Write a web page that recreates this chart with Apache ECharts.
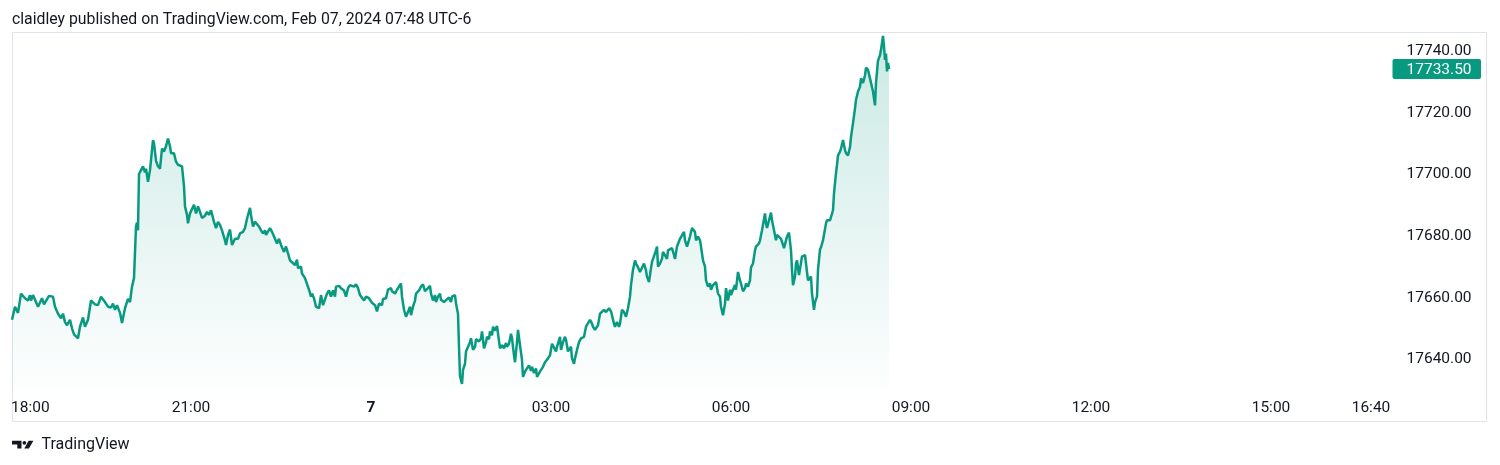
<!DOCTYPE html>
<html><head><meta charset="utf-8">
<script src="https://cdn.jsdelivr.net/npm/echarts@6/dist/echarts.min.js"></script>
<style>html,body{margin:0;padding:0;background:#fff}#c{width:1500px;height:465px}</style>
</head><body><div id="c"></div><script>
// minutes since 18:00 (session start)
const minutes = [
1,4,7,10,14,17,19,20,22,25,
27,29,31,33,35,38,42,44,47,50,
52,54,56,59,61,63,65,67,69,72,
74,77,80,84,87,90,94,97,100,102,
104,106,109,111,114,117,119,121,123,124,
125,126,127,128,130,132,134,135,137,139,
140,142,143,145,147,149,151,153,155,157,
159,160,163,165,167,169,171,173,174,176,
177,179,181,183,185,187,189,191,194,196,
198,200,203,205,207,209,211,214,215,217,
219,221,224,227,229,232,234,236,239,240,
242,244,246,248,250,252,254,255,257,259,
261,264,266,268,270,273,275,277,279,281,
284,286,287,290,291,294,296,298,300,301,
303,305,308,310,312,314,316,318,320,322,
324,325,328,330,333,335,337,339,341,343,
345,347,349,351,353,355,358,360,361,363,
364,366,368,371,372,375,377,380,381,384,
386,388,390,391,393,395,397,399,400,402,
404,405,408,410,412,414,416,419,420,422,
424,425,427,429,430,433,435,438,440,441,
444,445,447,448,449,451,452,454,455,457,
459,460,462,464,465,468,470,471,473,475,
476,478,479,481,482,484,486,487,489,491,
493,495,496,498,500,501,503,504,506,507,
509,511,512,514,516,518,520,521,523,525,
526,528,530,532,534,535,537,539,541,543,
545,546,549,550,552,554,555,557,560,561,
563,564,566,568,570,571,573,575,577,579,
581,582,584,586,587,589,590,593,595,598,
600,601,603,604,606,608,609,611,613,615,
617,619,620,622,624,625,627,629,631,633,
635,636,638,640,641,643,645,646,647,649,
651,652,654,656,657,659,661,663,664,666,
667,669,671,673,674,676,677,679,681,682,
684,685,687,689,690,692,694,695,697,699,
700,702,704,705,707,709,710,712,714,715,
717,719,720,722,724,725,727,729,730,732,
734,735,737,739,740,742,744,745,748,749,
751,752,754,755,756,758,760,761,763,765,
766,768,770,771,773,775,776,778,780,781,
782,784,785,786,788,789,791,792,794,795,
797,798,800,801,803,804,806,807,809,810,
812,814,815,816,819,820,822,823,825,826,
827,829,830,832,834,835,837,839,840,842,
844,845,847,849,850,852,854,855,857,859,
860,862,864,865,867,868,869,870,872,873,
874,875,876,877,878
];
const prices = [
17652.25,17656.5,17654.5,17660.75,17659.25,17658.5,17660.25,17658.5,17660.25,17658,
17656.5,17656.5,17659.25,17657.25,17657,17660,17659.75,17656.5,17654.25,17652.75,
17654.25,17651.5,17650.5,17652.25,17649.5,17647.5,17647,17646.25,17650,17653,
17650,17652.25,17658.5,17657.25,17657,17659.75,17658,17656.5,17656.25,17657.5,
17655.5,17657,17654.5,17651.25,17656,17659,17658,17663,17665.75,17666,
17682.5,17683.75,17681.25,17699.5,17700.75,17702,17700,17701.25,17697,17700.75,
17704,17710.5,17709.5,17703.75,17702,17701.25,17707.75,17706.75,17708.5,17711,
17708.5,17706.25,17706.25,17703.5,17702.5,17703,17702,17695.5,17689,17686.25,
17683.5,17686.75,17686.75,17689.5,17686.75,17689,17687.25,17685.25,17686,17687.25,
17686.25,17687.75,17684,17682,17684,17683,17681.25,17678,17676.5,17679.75,
17681.5,17676.5,17678.5,17678.5,17680.25,17680.75,17682,17685,17688.5,17686.25,
17682.5,17684,17683.5,17682.5,17681.25,17680.25,17681.25,17679.75,17680.25,17682,
17680.75,17678.5,17677,17678.5,17676.5,17674.25,17676,17673.75,17671.5,17672,
17670,17671.75,17669,17669.5,17667.25,17665.75,17666.25,17662,17659.75,17660.75,
17659.25,17656.5,17656,17660.25,17657,17657.5,17660.75,17661.75,17659.75,17661.75,
17659.75,17663,17663.25,17662.5,17661.75,17659.75,17662.5,17663.5,17663,17663,
17663.75,17662.5,17660.25,17659.75,17658.5,17659.75,17659.25,17659.75,17657.75,17658,
17657,17655,17657.5,17657,17659,17659.25,17662,17662.5,17661.5,17660.75,
17662,17662.5,17664,17659.75,17655.5,17653.25,17654.75,17656.5,17653.75,17656.5,
17658.5,17660.75,17661.75,17663,17663.75,17661.5,17662,17663.25,17660.75,17658.5,
17660.25,17658,17659.75,17660.75,17658.75,17658,17657.5,17659.5,17658,17659.75,
17660.25,17657.5,17654.25,17643.5,17634,17631.5,17636,17638,17642,17642.5,
17645,17646.25,17642.5,17643.5,17646,17645.25,17646.25,17648.5,17643,17645,
17646.75,17646,17648.5,17647.25,17650,17648.75,17650.25,17650,17643,17644,
17643,17644.75,17643.5,17644.5,17647.75,17646.25,17640.75,17638.5,17645,17649,
17644,17639.25,17633.75,17635.5,17636.5,17637.5,17635.75,17637,17635,17636.5,
17633.75,17633.25,17636,17637,17638.5,17638.25,17639.75,17640.75,17644.5,17644.5,
17642,17643.5,17646.75,17642.5,17645,17646.75,17645.75,17642,17643.5,17639.75,
17638,17639.75,17642.5,17645,17646.25,17645.75,17646.75,17650,17650.5,17652.25,
17651,17650,17649,17648.5,17650.5,17654.25,17654.25,17655.5,17654.75,17656,
17655,17654.5,17651,17650,17651.5,17650,17651,17655.5,17654.75,17653.25,
17656,17659.75,17663.5,17668.5,17671.5,17670.5,17669.25,17667.75,17668.25,17670.5,
17668.25,17666.25,17664.5,17669,17671,17670.5,17674.75,17676,17669.5,17670.5,
17672,17674.25,17673.75,17672,17674.75,17674.25,17675.5,17673.25,17672,17676,
17676.25,17678.5,17678,17680.75,17678,17676,17677,17679.25,17682,17682.5,
17680.75,17678,17679.25,17678,17676,17671.5,17669.5,17665,17663,17664,
17662,17663.5,17664,17664.5,17660.75,17659.75,17656.5,17653.75,17657.5,17662.5,
17658.5,17662,17660.25,17662,17663.5,17662,17667.75,17665,17664,17661.5,
17662.5,17664,17663,17665,17669.25,17670.5,17674.75,17676,17677,17678,
17681.25,17681.75,17686.75,17683.5,17682,17684.5,17687,17684.5,17681.25,17678,
17679.75,17680.25,17678.5,17677.5,17675.5,17678,17679.25,17680.5,17674.75,17668.5,
17663.5,17666.25,17670.5,17671.5,17666.75,17668.75,17672.75,17672.25,17673.25,17670.5,
17665,17665.5,17666.25,17660.75,17655.5,17658,17659.75,17668.5,17675,17675.75,
17678,17678.5,17683.5,17684.5,17684.5,17685,17687.75,17693.25,17699.75,17702.5,
17705.5,17706.75,17707.75,17710.5,17707.25,17706.25,17705.5,17708.25,17711.5,17716,
17720.75,17723.5,17726.25,17727.75,17730.5,17729,17731.5,17734,17733.25,17730.5,
17730,17726.25,17721.75,17729,17736.25,17736,17738,17739.75,17744.25,17740.75,
17736.5,17738.5,17732.75,17735.5,17733.5
];
const timeTickMinutes = [0,180,360,540,720,900,1080,1260,1360];
const timeTickLabels = ['18:00','21:00','7','03:00','06:00','09:00','12:00','15:00','16:40'];
const priceTicks = [17640,17660,17680,17700,17720,17740];
const headerText = 'claidley published on TradingView.com, Feb 07, 2024 07:48 UTC-6';
const footerText = 'TradingView';

const FONT = "Roboto, 'Noto Sans', sans-serif";
const TXT = '#131722';
const GREEN = '#089981';
const lastPrice = prices[prices.length - 1];
const seriesData = minutes.map((m, i) => [m, prices[i]]);

const chart = echarts.init(document.getElementById('c'), null, {renderer: 'canvas'});
const baseGraphic = [
  {type: 'rect', silent: true, shape: {x: 12.5, y: 32.5, width: 1474, height: 389},
   style: {fill: null, stroke: '#e0e3eb', lineWidth: 1}},
  {type: 'text', x: 12, y: 20, silent: true,
   style: {text: headerText, fontSize: 15.8, fontFamily: FONT, fill: TXT, verticalAlign: 'middle'}},
  {type: 'polygon', silent: true,
   shape: {points: [[12, 440.8], [21.5, 440.8], [21.5, 448.4], [17.3, 448.4], [17.3, 444.6], [12, 444.6]]},
   style: {fill: TXT}},
  {type: 'circle', silent: true, shape: {cx: 24.4, cy: 442.8, r: 1.9}, style: {fill: TXT}},
  {type: 'polygon', silent: true,
   shape: {points: [[28.6, 440.8], [33.4, 440.8], [28.9, 448.4], [24.3, 448.4]]},
   style: {fill: TXT}},
  {type: 'text', x: 41.5, y: 444.5, silent: true,
   style: {text: footerText, fontSize: 16, fontFamily: FONT, fill: TXT, verticalAlign: 'middle'}}
];
chart.setOption({
  animation: false,
  backgroundColor: '#ffffff',
  grid: {left: 11, right: 109, top: 33, bottom: 75, containLabel: false},
  xAxis: {
    type: 'value', min: 0, max: 1380,
    axisLine: {show: false}, axisTick: {show: false}, splitLine: {show: false},
    axisLabel: {
      customValues: timeTickMinutes,
      margin: 10, color: TXT, fontSize: 15.5, fontFamily: FONT,
      alignMinLabel: 'left',
      formatter: function (v) {
        const i = timeTickMinutes.indexOf(v);
        const t = i >= 0 ? timeTickLabels[i] : '';
        return t === '7' ? '{b|7}' : t;
      },
      rich: {b: {fontWeight: 'bold', fontSize: 15.5, color: TXT, fontFamily: FONT}}
    }
  },
  yAxis: {
    type: 'value', position: 'right', min: 17629.5, max: 17745.2, scale: true,
    axisLine: {show: false}, axisTick: {show: false}, splitLine: {show: false},
    axisLabel: {
      customValues: priceTicks,
      margin: 15.5, color: TXT, fontSize: 15.5, fontFamily: FONT,
      formatter: v => '{p|' + v.toFixed(2) + '}',
      rich: {p: {fontSize: 15.5, fontFamily: FONT, color: TXT, padding: [4, 0, 0, 0]}}
    }
  },
  series: [{
    type: 'line',
    data: seriesData,
    showSymbol: false,
    symbol: 'none',
    lineStyle: {color: GREEN, width: 2.5},
    itemStyle: {color: GREEN},
    areaStyle: {
      color: new echarts.graphic.LinearGradient(0, 0, 0, 1, [
        {offset: 0, color: 'rgba(8,153,129,0.30)'},
        {offset: 1, color: 'rgba(8,153,129,0.01)'}
      ])
    }
  }],
  graphic: baseGraphic
});

// last-price tag on the price scale, positioned through the y axis scale
const tagY = chart.convertToPixel({yAxisIndex: 0}, lastPrice);
const tagLeft = chart.convertToPixel({xAxisIndex: 0}, 1380) + 1.5;
chart.setOption({
  graphic: baseGraphic.concat([
    {type: 'rect', silent: true, z: 100,
     shape: {x: tagLeft, y: tagY - 10, width: 88.5, height: 20, r: 2},
     style: {fill: GREEN}},
    {type: 'text', silent: true, z: 101, x: tagLeft + 14, y: tagY + 1,
     style: {text: lastPrice.toFixed(2), fontSize: 15.5, fontFamily: FONT, fill: '#ffffff', verticalAlign: 'middle'}}
  ])
}, {replaceMerge: ['graphic']});
</script></body></html>
